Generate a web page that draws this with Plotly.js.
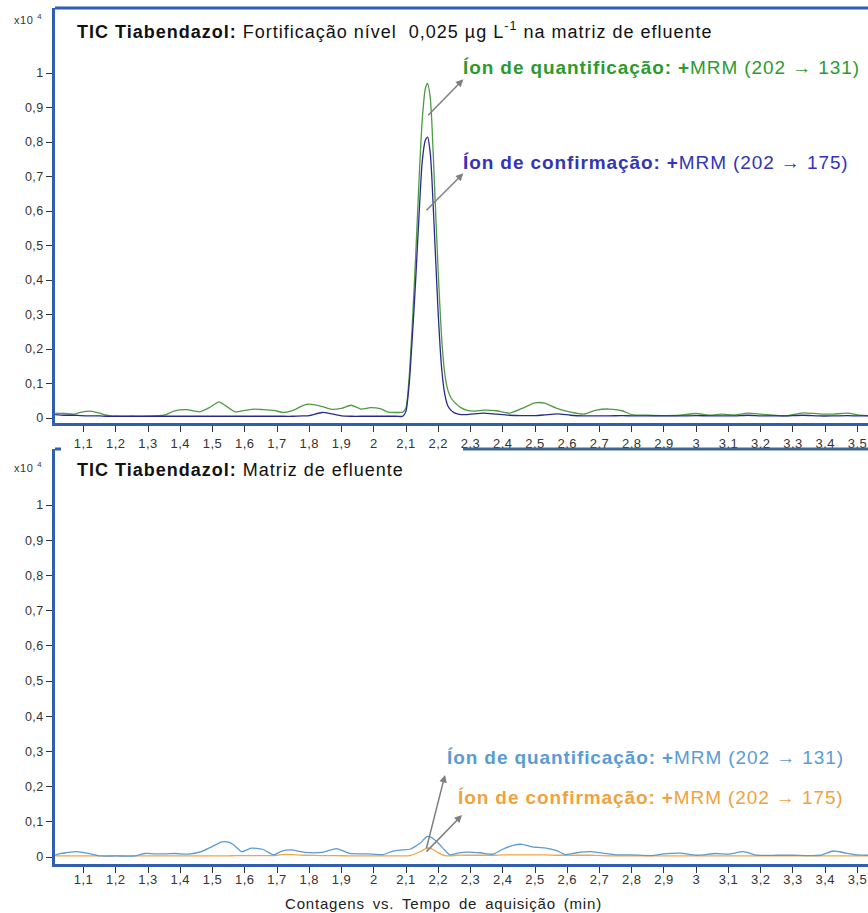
<!DOCTYPE html>
<html><head><meta charset="utf-8">
<script src="https://cdn.plot.ly/plotly-3.0.1.min.js"></script>
<style>
html,body{margin:0;padding:0;background:#fff;}
#chart{width:868px;height:913px;}
#chart .xtick text, #chart .x2tick text, #chart .ytick text, #chart .y2tick text{letter-spacing:0.4px;}
</style>
</head><body><div id="chart"></div>
<script>
// ---- Top panel: fortified effluent (x10^4 counts vs. min)
const tTop = [1.012,1.04,1.07,1.09,1.12,1.15,1.17,1.2,1.25,1.3,1.35,1.38,1.42,1.46,1.49,1.52,1.54,1.57,1.6,1.63,1.66,1.69,1.72,1.75,1.78,1.80,1.84,1.87,1.90,1.93,1.96,1.99,2.02,2.045,2.07,2.09,2.10,2.11,2.12,2.13,2.14,2.15,2.16,2.167,2.175,2.18,2.19,2.20,2.21,2.22,2.23,2.24,2.25,2.27,2.29,2.31,2.34,2.38,2.42,2.46,2.50,2.53,2.57,2.61,2.65,2.69,2.73,2.77,2.80,2.85,2.9,2.95,3.0,3.04,3.08,3.12,3.16,3.2,3.24,3.28,3.33,3.38,3.42,3.47,3.5,3.533];
const quantTop = [0.014,0.013,0.011,0.016,0.02,0.014,0.008,0.005,0.005,0.005,0.008,0.02,0.024,0.018,0.03,0.047,0.036,0.018,0.022,0.026,0.024,0.022,0.016,0.022,0.036,0.04,0.033,0.025,0.028,0.037,0.026,0.03,0.027,0.017,0.016,0.017,0.03,0.12,0.28,0.47,0.68,0.86,0.955,0.97,0.93,0.86,0.64,0.42,0.24,0.13,0.08,0.058,0.046,0.03,0.022,0.02,0.023,0.021,0.014,0.028,0.044,0.043,0.027,0.017,0.011,0.023,0.026,0.021,0.01,0.008,0.007,0.008,0.013,0.008,0.011,0.009,0.014,0.011,0.008,0.006,0.015,0.012,0.011,0.014,0.009,0.007];
const confTop = [0.01,0.008,0.008,0.007,0.006,0.006,0.005,0.005,0.005,0.005,0.005,0.005,0.005,0.005,0.005,0.005,0.005,0.005,0.005,0.005,0.005,0.005,0.005,0.005,0.006,0.007,0.016,0.012,0.006,0.005,0.005,0.005,0.005,0.005,0.005,0.005,0.02,0.10,0.24,0.40,0.58,0.74,0.805,0.814,0.77,0.70,0.50,0.30,0.15,0.07,0.035,0.022,0.015,0.01,0.01,0.012,0.014,0.011,0.008,0.007,0.007,0.009,0.012,0.008,0.006,0.006,0.006,0.007,0.006,0.006,0.006,0.006,0.007,0.006,0.006,0.006,0.008,0.006,0.006,0.006,0.008,0.006,0.006,0.007,0.006,0.006];

// ---- Bottom panel: blank effluent matrix
const tBot = [1.012,1.03,1.045,1.08,1.115,1.15,1.2,1.26,1.29,1.32,1.355,1.385,1.425,1.465,1.497,1.53,1.55,1.57,1.59,1.62,1.655,1.69,1.715,1.745,1.785,1.84,1.885,1.925,1.98,2.03,2.06,2.09,2.112,2.143,2.165,2.175,2.195,2.22,2.236,2.26,2.29,2.33,2.37,2.40,2.435,2.46,2.49,2.53,2.567,2.595,2.63,2.67,2.71,2.75,2.8,2.86,2.9,2.95,3.0,3.06,3.1,3.145,3.19,3.25,3.3,3.385,3.425,3.465,3.5,3.533];
const quantBot = [0.005,0.01,0.012,0.015,0.01,0.003,0.003,0.003,0.01,0.009,0.009,0.01,0.008,0.015,0.029,0.043,0.042,0.031,0.015,0.025,0.022,0.006,0.017,0.02,0.013,0.013,0.024,0.01,0.009,0.007,0.017,0.02,0.022,0.039,0.058,0.057,0.044,0.02,0.006,0.011,0.014,0.012,0.008,0.022,0.034,0.036,0.029,0.026,0.018,0.007,0.012,0.015,0.011,0.006,0.006,0.004,0.009,0.011,0.005,0.01,0.008,0.015,0.005,0.005,0.005,0.005,0.017,0.011,0.006,0.005];
const confBot = [0.003,0.003,0.003,0.003,0.003,0.003,0.003,0.003,0.003,0.003,0.003,0.003,0.003,0.003,0.003,0.003,0.003,0.004,0.004,0.004,0.004,0.004,0.007,0.007,0.005,0.004,0.004,0.003,0.003,0.003,0.003,0.003,0.004,0.015,0.025,0.025,0.015,0.004,0.003,0.005,0.005,0.005,0.005,0.006,0.006,0.006,0.006,0.006,0.005,0.005,0.005,0.005,0.004,0.003,0.003,0.003,0.003,0.003,0.003,0.003,0.003,0.003,0.003,0.003,0.003,0.003,0.003,0.003,0.003,0.003];

const yTicks = [0,0.1,0.2,0.3,0.4,0.5,0.6,0.7,0.8,0.9,1];

const W = 868, H = 913;
const px = v => v / W;
const py = v => 1 - v / H;
const FONT = '"Liberation Sans", Arial, sans-serif';
const AX = '#2f5fae';

const traces = [
  {x: tTop, y: quantTop, xaxis: 'x', yaxis: 'y', mode: 'lines', line: {color: '#4f9a45', width: 1.3, shape: 'spline', smoothing: 0.6}, hoverinfo: 'skip'},
  {x: tTop, y: confTop, xaxis: 'x', yaxis: 'y', mode: 'lines', line: {color: '#2a2a8c', width: 1.3, shape: 'spline', smoothing: 0.6}, hoverinfo: 'skip'},
  {x: tBot, y: confBot, xaxis: 'x2', yaxis: 'y2', mode: 'lines', line: {color: '#f2a543', width: 1.3, shape: 'spline', smoothing: 0.6}, hoverinfo: 'skip'},
  {x: tBot, y: quantBot, xaxis: 'x2', yaxis: 'y2', mode: 'lines', line: {color: '#5b9bd5', width: 1.3, shape: 'spline', smoothing: 0.6}, hoverinfo: 'skip'}
];

const xCommon = {
  range: [1.0116, 3.5326], tick0: 1, dtick: 0.1, ticks: 'outside', ticklen: 6, tickcolor: '#333',
  showline: true, linecolor: AX, linewidth: 3, showgrid: false, zeroline: false,
  tickfont: {family: FONT, size: 13, color: '#333'}
};
const yCommon = {
  tickvals: yTicks, ticks: 'outside', ticklen: 6, tickcolor: '#333',
  showline: true, linecolor: AX, linewidth: 3, showgrid: false, zeroline: false,
  tickfont: {family: FONT, size: 12.5, color: '#333'}
};

const arrow = (xr, yr, hx, hy, tx, ty) => ({
  xref: xr, yref: yr, axref: xr, ayref: yr, x: hx, y: hy, ax: tx, ay: ty,
  text: '', showarrow: true, arrowhead: 2, arrowsize: 1, arrowwidth: 1.5, arrowcolor: '#7f7f7f', standoff: 0, startstandoff: 0
});
const txt = (x, y, text, size, color) => ({
  xref: 'paper', yref: 'paper', x: px(x), y: py(y), xanchor: 'left', yanchor: 'middle',
  text: text, showarrow: false, font: {family: FONT, size: size, color: color}
});

const annotations = [
  txt(12, 19, 'x10 <sup>4</sup>', 11, '#333'),
  txt(12, 467, 'x10 <sup>4</sup>', 11, '#333'),
  txt(75, 30, '<b>TIC Tiabendazol:</b> Fortificação nível  0,025 µg L<sup>-1</sup> na matriz de efluente', 18, '#111'),
  txt(75, 470, '<b>TIC Tiabendazol:</b> Matriz de efluente', 18, '#111'),
  txt(461, 67, '<b>Íon de quantificação: +</b>MRM (202 → 131)', 19, '#2e9a2e'),
  txt(461, 162, '<b>Íon de confirmação: +</b>MRM (202 → 175)', 19, '#3434b4'),
  txt(445, 757, '<b>Íon de quantificação: +</b>MRM (202 → 131)', 19, '#5b9bd5'),
  txt(456, 797, '<b>Íon de confirmação: +</b>MRM (202 → 175)', 19, '#f0a23c'),
  txt(283, 903, 'Contagens vs. Tempo de aquisição (min)', 15, '#222'),
  arrow('x', 'y', 2.2777, 0.9817, 2.1642, 0.8733),
  arrow('x', 'y', 2.2777, 0.7093, 2.1589, 0.598),
  arrow('x2', 'y2', 2.2209, 0.233, 2.162, 0.02),
  arrow('x2', 'y2', 2.2736, 0.119, 2.159, 0.011)
];
const spacing = ['0.6px', '0.6px', '1px', '1px', '0.9px', '0.9px', '0.9px', '0.9px', '0.8px'];
const wordSpacing = ['0', '0', '0', '0', '0', '0', '0', '0', '3px'];

const layout = {
  width: W, height: H,
  margin: {l: 0, r: 0, t: 0, b: 0},
  paper_bgcolor: '#fff', plot_bgcolor: '#fff',
  showlegend: false,
  separators: ',.',
  xaxis: Object.assign({}, xCommon, {domain: [px(55), 1], anchor: 'y'}),
  yaxis: Object.assign({}, yCommon, {domain: [py(423), py(8)], range: [-0.0145, 1.1884], anchor: 'x'}),
  xaxis2: Object.assign({}, xCommon, {domain: [px(55), 1], anchor: 'y2', ticklabelstandoff: -5}),
  yaxis2: Object.assign({}, yCommon, {domain: [py(864), py(449)], range: [-0.0199, 1.1591], anchor: 'x2'}),
  shapes: [
    {type: 'line', xref: 'paper', yref: 'paper', x0: px(55), x1: 1, y0: py(8), y1: py(8), line: {color: AX, width: 3}},
    {type: 'line', xref: 'paper', yref: 'paper', x0: px(463), x1: 1, y0: py(449), y1: py(449), line: {color: '#3f6796', width: 3}},
    {type: 'line', xref: 'paper', yref: 'paper', x0: px(55), x1: px(61), y0: py(449), y1: py(449), line: {color: AX, width: 3}}
  ],
  annotations: annotations
};

Plotly.newPlot('chart', traces, layout, {displayModeBar: false, staticPlot: true}).then(() => {
  const groups = document.querySelectorAll('#chart g.annotation');
  groups.forEach((g) => {
    const i = +g.getAttribute('data-index');
    if (!(i < spacing.length)) return;
    const n = g.querySelector('.annotation-text');
    if (!n) return;
    const before = n.getBBox();
    n.style.letterSpacing = spacing[i];
    n.style.wordSpacing = wordSpacing[i];
    const after = n.getBBox();
    const dx = before.x - after.x;
    const old = n.getAttribute('transform') || '';
    n.setAttribute('transform', old + ' translate(' + dx + ',0)');
  });
});
</script>
</body></html>
